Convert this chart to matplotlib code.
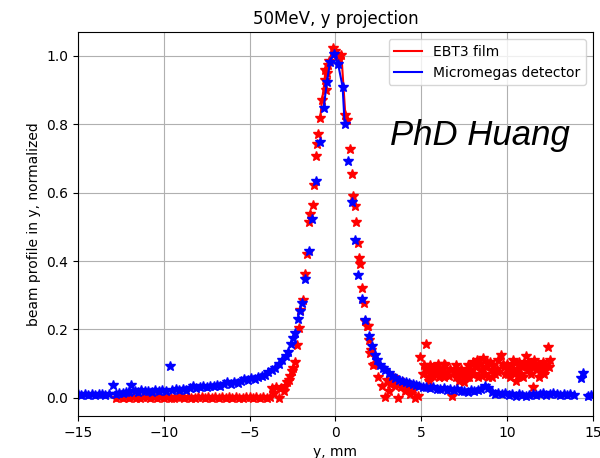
import matplotlib
matplotlib.use("Agg")
import matplotlib.pyplot as plt

# Micromegas detector profile (y in mm, normalized intensity)
blue_x = [-15.0, -14.8, -14.6, -14.4, -14.2, -14.0, -13.8, -13.6, -13.4, -13.2,
          -12.95, -12.8, -12.6, -12.4, -12.2, -12.0, -11.9, -11.7, -11.5, -11.3,
          -11.1, -10.9, -10.7, -10.5, -10.3, -10.1, -9.9, -9.65, -9.5, -9.3,
          -9.1, -8.9, -8.7, -8.5, -8.3, -8.1, -7.9, -7.7, -7.5, -7.3,
          -7.1, -6.9, -6.7, -6.5, -6.3, -6.1, -5.9, -5.7, -5.5, -5.3,
          -5.1, -4.9, -4.7, -4.5, -4.3, -4.1, -3.9, -3.7, -3.5, -3.3,
          -3.1, -2.9, -2.75, -2.6, -2.45, -2.35, -2.2, -2.05, -1.96, -1.76,
          -1.56, -1.36, -1.12, -0.91, -0.69, -0.49, -0.31, -0.10, 0.15, 0.42,
          0.54, 0.73, 0.96, 1.15, 1.34, 1.57, 1.75, 1.96, 2.11, 2.3,
          2.45, 2.6, 2.75, 2.9, 3.1, 3.3, 3.5, 3.7, 3.9, 4.1,
          4.3, 4.5, 4.7, 4.9, 5.1, 5.3, 5.5, 5.7, 5.9, 6.1,
          6.3, 6.5, 6.7, 6.9, 7.1, 7.3, 7.5, 7.7, 7.9, 8.1,
          8.3, 8.5, 8.7, 8.9, 9.1, 9.3, 9.5, 9.7, 9.9, 10.1,
          10.3, 10.5, 10.7, 10.9, 11.1, 11.3, 11.5, 11.7, 11.9, 12.1,
          12.3, 12.5, 12.7, 12.9, 13.1, 13.3, 13.5, 13.7, 13.9, 14.3,
          14.45, 14.7, 14.9]
blue_y = [0.010, 0.008, 0.012, 0.009, 0.011, 0.008, 0.010, 0.012, 0.009, 0.011,
          0.038, 0.012, 0.015, 0.013, 0.018, 0.016, 0.038, 0.020, 0.017, 0.022,
          0.019, 0.021, 0.018, 0.023, 0.020, 0.024, 0.021, 0.094, 0.023, 0.026,
          0.022, 0.027, 0.024, 0.029, 0.033, 0.028, 0.031, 0.034, 0.030, 0.035,
          0.033, 0.037, 0.035, 0.040, 0.045, 0.041, 0.046, 0.044, 0.050, 0.055,
          0.052, 0.057, 0.056, 0.060, 0.064, 0.068, 0.074, 0.080, 0.087, 0.098,
          0.110, 0.122, 0.135, 0.158, 0.175, 0.190, 0.230, 0.255, 0.277, 0.347,
          0.428, 0.522, 0.635, 0.747, 0.847, 0.925, 0.983, 1.006, 0.978, 0.910,
          0.800, 0.694, 0.574, 0.462, 0.360, 0.290, 0.227, 0.180, 0.150, 0.125,
          0.110, 0.097, 0.088, 0.080, 0.072, 0.065, 0.058, 0.053, 0.048, 0.045,
          0.042, 0.040, 0.037, 0.034, 0.032, 0.030, 0.028, 0.030, 0.027, 0.025,
          0.028, 0.024, 0.026, 0.023, 0.025, 0.021, 0.020, 0.018, 0.022, 0.020,
          0.024, 0.027, 0.033, 0.028, 0.018, 0.010, 0.013, 0.011, 0.014, 0.009,
          0.012, 0.006, 0.010, 0.008, 0.005, 0.009, 0.011, 0.007, 0.010, 0.013,
          0.009, 0.012, 0.014, 0.010, 0.008, 0.011, 0.007, 0.010, 0.009, 0.058,
          0.072, 0.004, 0.008]

# EBT3 film profile
red_x = [-12.8, -12.6, -12.4, -12.2, -12.0, -11.8, -11.6, -11.4, -11.2, -11.0,
         -10.8, -10.6, -10.4, -10.2, -10.0, -9.8, -9.6, -9.4, -9.2, -9.0,
         -8.8, -8.6, -8.4, -8.2, -8.0, -7.8, -7.6, -7.4, -7.2, -7.0,
         -6.8, -6.6, -6.4, -6.2, -6.0, -5.8, -5.6, -5.4, -5.2, -5.0,
         -4.8, -4.6, -4.4, -4.2, -4.0, -3.8, -3.7, -3.55, -3.45, -3.3,
         -3.15, -3.0, -2.94, -2.8, -2.73, -2.62, -2.54, -2.45, -2.35, -2.25,
         -2.15, -2.06, -1.86, -1.76, -1.66, -1.52, -1.46, -1.33, -1.23, -1.15,
         -1.06, -0.99, -0.88, -0.78, -0.62, -0.55, -0.49, -0.35, -0.14, -0.05,
         0.2, 0.35, 0.58, 0.67, 0.87, 0.96, 1.02, 1.15, 1.18, 1.34,
         1.37, 1.43, 1.53, 1.69, 1.73, 1.82, 1.88, 1.96, 2.0, 2.07,
         2.21, 2.29, 2.5, 2.69, 2.89, 2.98, 3.2, 3.35, 3.47, 3.66,
         3.8, 3.95, 4.05, 4.2, 4.35, 4.5, 4.63, 4.8, 4.92, 5.26,
         5.1, 5.3, 5.4, 5.5, 5.6, 5.7, 5.8, 5.9, 6.0, 6.1,
         6.2, 6.3, 6.4, 6.5, 6.6, 6.77, 6.9, 7.0, 7.1, 7.2,
         7.3, 7.4, 7.5, 7.6, 7.7, 7.8, 7.9, 8.0, 8.1, 8.2,
         8.3, 8.4, 8.5, 8.6, 8.7, 8.8, 8.9, 9.0, 9.1, 9.2,
         9.3, 9.4, 9.5, 9.65, 9.8, 9.9, 10.0, 10.1, 10.2, 10.3,
         10.4, 10.5, 10.6, 10.7, 10.8, 10.9, 11.0, 11.12, 11.2, 11.3,
         11.4, 11.5, 11.6, 11.7, 11.8, 11.9, 12.0, 12.1, 12.2, 12.3,
         12.4, 12.5,
         5.15, 5.45, 5.75, 6.05, 6.35, 6.65, 7.05, 7.35, 7.65, 7.95,
         8.25, 8.55, 8.85, 9.15, 9.45, 9.75, 10.05, 10.35, 10.65, 10.95,
         11.25, 11.55, 11.85, 12.15, 12.45, -0.6, -0.42, 0.1, 3.1, 3.55]
red_y = [0.000, 0.001, 0.000, 0.002, 0.000, 0.001, 0.000, 0.000, 0.002, 0.001,
         0.000, 0.001, 0.000, 0.002, 0.000, 0.001, 0.000, 0.000, 0.001, 0.002,
         0.000, 0.001, 0.000, 0.000, 0.002, 0.001, 0.000, 0.001, 0.000, 0.002,
         0.000, 0.001, 0.000, 0.002, 0.000, 0.001, 0.000, 0.000, 0.001, 0.002,
         0.000, 0.001, 0.000, 0.002, 0.000, 0.001, 0.028, 0.015, 0.030, 0.000,
         0.028, 0.020, 0.035, 0.045, 0.053, 0.065, 0.077, 0.088, 0.105, 0.155,
         0.204, 0.256, 0.285, 0.363, 0.421, 0.513, 0.537, 0.564, 0.623, 0.708,
         0.742, 0.772, 0.820, 0.870, 0.930, 0.900, 0.949, 0.985, 1.023, 1.015,
         0.990, 1.003, 0.827, 0.813, 0.728, 0.655, 0.589, 0.562, 0.513, 0.452,
         0.408, 0.392, 0.320, 0.277, 0.226, 0.209, 0.210, 0.170, 0.130, 0.140,
         0.096, 0.100, 0.062, 0.033, 0.002, 0.053, 0.040, 0.060, 0.033, 0.000,
         0.030, 0.045, 0.020, 0.030, 0.010, 0.025, 0.000, 0.005, 0.119, 0.158,
         0.070, 0.085, 0.060, 0.095, 0.075, 0.065, 0.090, 0.080, 0.100, 0.070,
         0.085, 0.060, 0.095, 0.075, 0.065, 0.004, 0.080, 0.060, 0.070, 0.050,
         0.085, 0.065, 0.045, 0.075, 0.095, 0.060, 0.080, 0.105, 0.070, 0.090,
         0.060, 0.100, 0.080, 0.115, 0.070, 0.090, 0.060, 0.105, 0.080, 0.095,
         0.070, 0.085, 0.110, 0.126, 0.090, 0.070, 0.100, 0.080, 0.060, 0.095,
         0.075, 0.050, 0.085, 0.105, 0.070, 0.090, 0.100, 0.121, 0.080, 0.095,
         0.070, 0.030, 0.110, 0.085, 0.100, 0.075, 0.090, 0.105, 0.080, 0.095,
         0.148, 0.110,
         0.095, 0.050, 0.080, 0.060, 0.100, 0.085, 0.095, 0.075, 0.060, 0.070,
         0.110, 0.065, 0.105, 0.060, 0.075, 0.100, 0.070, 0.110, 0.065, 0.060,
         0.105, 0.090, 0.060, 0.070, 0.090, 0.960, 0.975, 1.005, 0.020, 0.045]

# connecting line only drawn around the peak
peak_cut = 0.78
red_peak = sorted((x, y) for x, y in zip(red_x, red_y) if y > peak_cut)
blue_peak = sorted((x, y) for x, y in zip(blue_x, blue_y) if y > peak_cut)

plt.figure(figsize=(6, 4.58), dpi=100)
plt.plot(red_x, red_y, "*", color="red", ms=7.5, linestyle="none")
plt.plot([p[0] for p in red_peak], [p[1] for p in red_peak], color="red",
         label="EBT3 film")
plt.plot(blue_x, blue_y, "*", color="blue", ms=7.5, linestyle="none")
plt.plot([p[0] for p in blue_peak], [p[1] for p in blue_peak], color="blue",
         label="Micromegas detector")
plt.text(3.2, 0.74, "PhD Huang", fontsize=25, style="italic",
         family="Liberation Sans")
plt.title("50MeV, y projection")
plt.xlabel("y, mm")
plt.ylabel("beam profile in y, normalized")
plt.xlim([-15, 15])
plt.ylim([-0.053, 1.07])
plt.xticks([-15, -10, -5, 0, 5, 10, 15])
plt.legend(loc="upper right")
plt.grid()
plt.subplots_adjust(left=0.13, right=0.988, top=0.93, bottom=0.092)
plt.savefig("out.png")
